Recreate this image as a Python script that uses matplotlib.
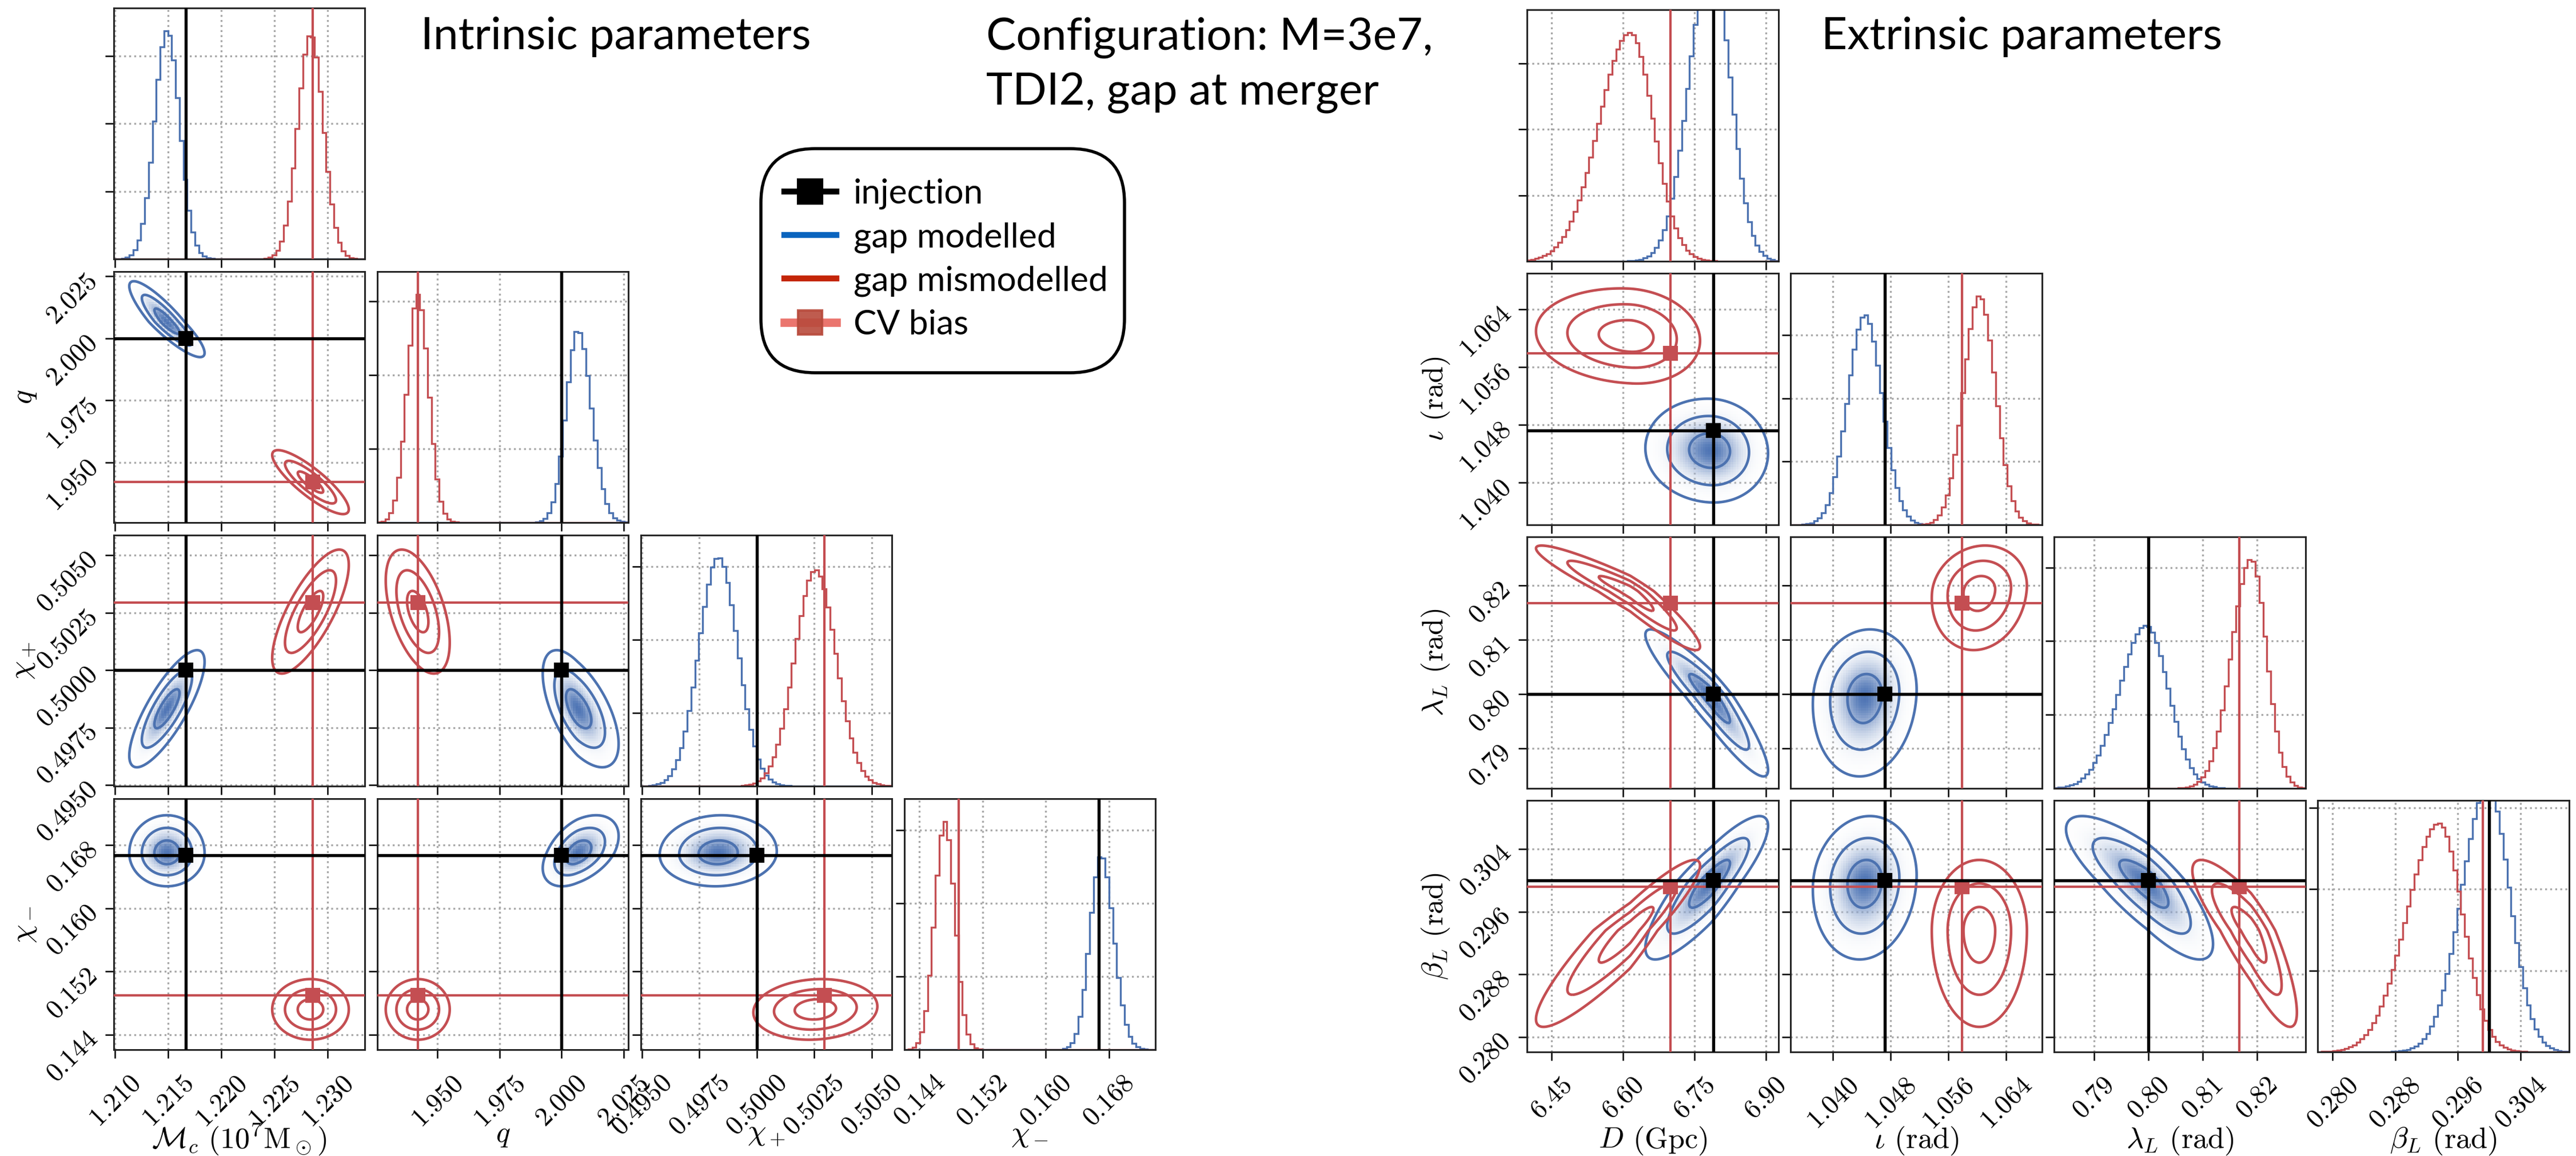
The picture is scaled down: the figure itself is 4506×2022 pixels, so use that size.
import numpy as np
import matplotlib.pyplot as plt
from matplotlib.colors import LinearSegmentedColormap
from matplotlib.lines import Line2D
from matplotlib.patches import FancyBboxPatch
from matplotlib.ticker import MaxNLocator

plt.rcParams['font.family'] = 'serif'
plt.rcParams['font.serif'] = ['cmr10']
plt.rcParams['mathtext.fontset'] = 'cm'
plt.rcParams['axes.formatter.use_mathtext'] = True

W, H = 4506, 2022
BLUE = '#4c72b0'
RED = '#c44e52'

# ---------------- intrinsic parameters ----------------
intr_labels = [r'$\mathcal{M}_c\ (10^7\mathrm{M}_\odot)$', r'$q$', r'$\chi_+$', r'$\chi_-$']
intr_lims = [(1.2099, 1.2335), (1.9257, 2.0269), (0.49495, 0.50588), (0.1421, 0.1739)]
intr_ticks = [[1.210, 1.215, 1.220, 1.225, 1.230],
              [1.950, 1.975, 2.000, 2.025],
              [0.4950, 0.4975, 0.5000, 0.5025, 0.5050],
              [0.144, 0.152, 0.160, 0.168]]
intr_ticklabels = [['1.210', '1.215', '1.220', '1.225', '1.230'],
                   ['1.950', '1.975', '2.000', '2.025'],
                   ['0.4950', '0.4975', '0.5000', '0.5025', '0.5050'],
                   ['0.144', '0.152', '0.160', '0.168']]
intr_injection = [1.2167, 2.000, 0.5000, 0.1667]
intr_cv_bias = [1.2286, 1.942, 0.50293, 0.1490]

# gap modelled (blue): peak, lower/upper widths, correlations
intr_mod_peak = [1.2149, 2.0065, 0.49832, 0.1670]
intr_mod_sig_lo = [0.00118, 0.0047, 0.00085, 0.0014]
intr_mod_sig_hi = [0.00118, 0.0055, 0.00085, 0.0016]
intr_mod_corr = [[1.00, -0.88, 0.80, 0.00],
                 [-0.88, 1.00, -0.60, 0.45],
                 [0.80, -0.60, 1.00, 0.05],
                 [0.00, 0.45, 0.05, 1.00]]
# gap mismodelled (red)
intr_mis_peak = [1.2284, 1.9420, 0.50255, 0.1472]
intr_mis_sig_lo = [0.0012, 0.0043, 0.0009, 0.00128]
intr_mis_sig_hi = [0.0012, 0.0043, 0.0009, 0.00128]
intr_mis_corr = [[1.00, -0.85, 0.75, 0.00],
                 [-0.85, 1.00, -0.50, 0.00],
                 [0.75, -0.50, 1.00, 0.10],
                 [0.00, 0.00, 0.10, 1.00]]

# ---------------- extrinsic parameters ----------------
extr_labels = [r'$D$ (Gpc)', r'$\iota$ (rad)', r'$\lambda_L$ (rad)', r'$\beta_L$ (rad)']
extr_lims = [(6.398, 6.927), (1.0341, 1.0690), (0.7827, 0.8289), (0.2781, 0.3102)]
extr_ticks = [[6.45, 6.60, 6.75, 6.90],
              [1.040, 1.048, 1.056, 1.064],
              [0.79, 0.80, 0.81, 0.82],
              [0.280, 0.288, 0.296, 0.304]]
extr_ticklabels = [['6.45', '6.60', '6.75', '6.90'],
                   ['1.040', '1.048', '1.056', '1.064'],
                   ['0.79', '0.80', '0.81', '0.82'],
                   ['0.280', '0.288', '0.296', '0.304']]
extr_injection = [6.79, 1.0472, 0.800, 0.3000]
extr_cv_bias = [6.70, 1.0579, 0.8167, 0.2992]

extr_mod_peak = [6.785, 1.0444, 0.7996, 0.2998]
extr_mod_sig_lo = [0.046, 0.0024, 0.0049, 0.0033]
extr_mod_sig_hi = [0.040, 0.0024, 0.0041, 0.0028]
extr_mod_corr = [[1.00, -0.05, -0.92, 0.85],
                 [-0.05, 1.00, 0.10, 0.10],
                 [-0.92, 0.10, 1.00, -0.80],
                 [0.85, 0.10, -0.80, 1.00]]
extr_mis_peak = [6.615, 1.0603, 0.8189, 0.2936]
extr_mis_sig_lo = [0.066, 0.0022, 0.0036, 0.0041]
extr_mis_sig_hi = [0.049, 0.0022, 0.0028, 0.0030]
extr_mis_corr = [[1.00, -0.10, -0.94, 0.92],
                 [-0.10, 1.00, 0.12, 0.00],
                 [-0.94, 0.12, 1.00, -0.85],
                 [0.92, 0.00, -0.85, 1.00]]

n_bins = 65
dens_cmap = LinearSegmentedColormap.from_list('dens', [(1, 1, 1, 0), (0.31, 0.46, 0.71, 1.0)])


def zscore(x, k, post):
    peak, lo, hi = post[0][k], post[1][k], post[2][k]
    return np.where(x < peak, (x - peak) / lo, (x - peak) / hi)


def marginal(edges, k, post):
    c = 0.5 * (edges[1:] + edges[:-1])
    z = zscore(c, k, post)
    return np.exp(-0.5 * z ** 2) * 2 / (np.sqrt(2 * np.pi) * (post[1][k] + post[2][k]))


def quad(X, Y, kx, ky, post):
    zx = zscore(X, kx, post)
    zy = zscore(Y, ky, post)
    r = post[3][kx][ky]
    return (zx ** 2 - 2 * r * zx * zy + zy ** 2) / (1 - r ** 2)


def style_axis(ax):
    ax.set_axisbelow(True)
    ax.grid(True, ls=':', color='#a8a8a8', lw=0.8)
    ax.tick_params(direction='out', length=3.5, width=0.6, pad=5, labelsize=11.2)
    for s in ax.spines.values():
        s.set_linewidth(0.7)
        s.set_color('#222222')


def corner(fig, x0, y0, size, step, labels, lims, ticks, ticklabels, inj, cv, mod, mis, ylim_from_mis):
    n = len(labels)
    for i in range(n):
        for j in range(i + 1):
            left = (x0 + j * step) / W
            bottom = 1 - (y0 + i * step + size) / H
            ax = fig.add_axes([left, bottom, size / W, size / H])
            style_axis(ax)
            if i == j:
                edges = np.linspace(lims[i][0], lims[i][1], n_bins + 1)
                h_mod = marginal(edges, i, mod)
                h_mis = marginal(edges, i, mis)
                ax.stairs(h_mod, edges, color=BLUE, lw=0.8)
                ax.stairs(h_mis, edges, color=RED, lw=0.8)
                top = h_mis.max() if ylim_from_mis else max(h_mod.max(), h_mis.max())
                ax.set_ylim(0, 1.1 * top)
                ax.axvline(inj[i], color='k', lw=1.3, zorder=4)
                ax.axvline(cv[i], color=RED, lw=1.0, zorder=4)
                ax.yaxis.set_major_locator(MaxNLocator(4, prune='lower'))
                ax.set_yticklabels([])
            else:
                # density image for the modelled-gap posterior
                ex = np.linspace(lims[j][0], lims[j][1], 101)
                ey = np.linspace(lims[i][0], lims[i][1], 101)
                cx, cy = np.meshgrid(0.5 * (ex[1:] + ex[:-1]), 0.5 * (ey[1:] + ey[:-1]))
                qc = quad(cx, cy, j, i, mod)
                dens = np.exp(-0.5 * qc) ** 0.6
                dens[qc > 9] = np.nan
                ax.pcolormesh(ex, ey, dens, cmap=dens_cmap, vmin=0, vmax=1, zorder=1, rasterized=True)
                gx = np.linspace(lims[j][0], lims[j][1], 300)
                gy = np.linspace(lims[i][0], lims[i][1], 300)
                X, Y = np.meshgrid(gx, gy)
                ax.contour(X, Y, quad(X, Y, j, i, mod), levels=[1, 4, 9], colors=BLUE, linewidths=1.1, zorder=2)
                ax.contour(X, Y, quad(X, Y, j, i, mis), levels=[1, 4, 9], colors=RED, linewidths=1.1, zorder=2)
                ax.axvline(inj[j], color='k', lw=1.3, zorder=4)
                ax.axhline(inj[i], color='k', lw=1.3, zorder=4)
                ax.plot(inj[j], inj[i], 's', color='k', ms=5.5, zorder=5)
                ax.axvline(cv[j], color=RED, lw=1.0, zorder=3)
                ax.axhline(cv[i], color=RED, lw=1.0, zorder=3)
                ax.plot(cv[j], cv[i], 's', color=RED, ms=5.5, zorder=3)
                ax.set_ylim(lims[i])
                ax.set_yticks(ticks[i])
                if j == 0:
                    ax.set_yticklabels(ticklabels[i])
                    for t in ax.get_yticklabels():
                        t.set_rotation(45)
                        t.set_rotation_mode('anchor')
                        t.set_ha('right')
                        t.set_va('center')
                    ax.set_ylabel(labels[i], fontsize=12.5)
                    ax.yaxis.set_label_coords(-0.30, 0.5)
                else:
                    ax.set_yticklabels([])
            ax.set_xlim(lims[j])
            ax.set_xticks(ticks[j])
            if i == n - 1:
                ax.set_xticklabels(ticklabels[j], rotation=45)
                ax.set_xlabel(labels[j], fontsize=12.5)
                ax.xaxis.set_label_coords(0.5, -0.29)
            else:
                ax.set_xticklabels([])


fig = plt.figure(figsize=(W / 300, H / 300), dpi=300)

corner(fig, 199, 14, 439, 461, intr_labels, intr_lims, intr_ticks, intr_ticklabels,
       intr_injection, intr_cv_bias,
       (intr_mod_peak, intr_mod_sig_lo, intr_mod_sig_hi, intr_mod_corr),
       (intr_mis_peak, intr_mis_sig_lo, intr_mis_sig_hi, intr_mis_corr), False)
corner(fig, 2671, 17, 440, 461, extr_labels, extr_lims, extr_ticks, extr_ticklabels,
       extr_injection, extr_cv_bias,
       (extr_mod_peak, extr_mod_sig_lo, extr_mod_sig_hi, extr_mod_corr),
       (extr_mis_peak, extr_mis_sig_lo, extr_mis_sig_hi, extr_mis_corr), True)

title_font = {'family': 'Lato', 'size': 18.8}
fig.text(736 / W, 1 - 86 / H, 'Intrinsic parameters', va='baseline', ha='left', **title_font)
fig.text(1725 / W, 1 - 87 / H, 'Configuration: M=3e7,', va='baseline', ha='left', **title_font)
fig.text(1725 / W, 1 - 183 / H, 'TDI2, gap at merger', va='baseline', ha='left', **title_font)
fig.text(3186 / W, 1 - 86 / H, 'Extrinsic parameters', va='baseline', ha='left', **title_font)

# legend with rounded frame
box = FancyBboxPatch((1331 / W, 1 - 652 / H), 636 / W, 392 / H,
                     boxstyle='round,pad=0,rounding_size=0.021', mutation_aspect=W / H,
                     transform=fig.transFigure, fc='white', ec='black', lw=1.3, zorder=5)
fig.add_artist(box)
leg_handles = [Line2D([], [], color='k', lw=2.5, marker='s', ms=10),
               Line2D([], [], color='#0a64be', lw=2.5),
               Line2D([], [], color='#c42508', lw=2.5),
               Line2D([], [], color='#e8665e', lw=3.5, alpha=0.9, marker='s', ms=10,
                      mfc='#b84a3c', mec='#b84a3c')]
leg_labels = ['injection', 'gap modelled', 'gap mismodelled', 'CV bias']
leg = fig.legend(leg_handles, leg_labels, loc='upper left', bbox_to_anchor=(1372 / W, 1 - 312 / H),
                 frameon=False, prop={'family': 'Lato', 'size': 14.5}, handlelength=1.5,
                 handletextpad=0.5, labelspacing=0.36, borderaxespad=0, borderpad=0)
leg.set_zorder(6)

fig.savefig('out.png', dpi=300)
